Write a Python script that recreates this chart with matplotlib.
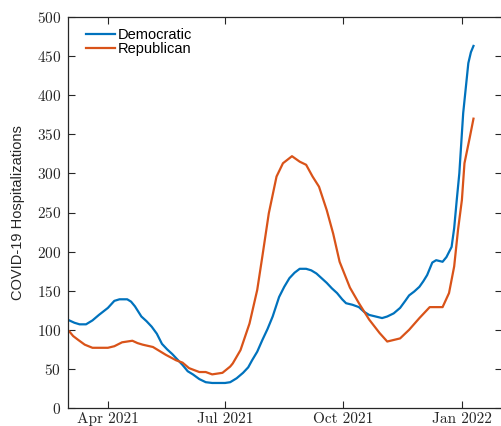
import numpy as np
import matplotlib.pyplot as plt

# 7-day hospitalizations by county partisanship
dem_dates = ["2021-03-02", "2021-03-06", "2021-03-10", "2021-03-15", "2021-03-20", "2021-03-25",
             "2021-04-01", "2021-04-06", "2021-04-10", "2021-04-16", "2021-04-19", "2021-04-22",
             "2021-04-27", "2021-05-01", "2021-05-05", "2021-05-09", "2021-05-13", "2021-05-17",
             "2021-05-21", "2021-05-25", "2021-05-29", "2021-06-02", "2021-06-06", "2021-06-11",
             "2021-06-16", "2021-06-21", "2021-06-26", "2021-07-01", "2021-07-05", "2021-07-10",
             "2021-07-15", "2021-07-19", "2021-07-22", "2021-07-26", "2021-07-30", "2021-08-03",
             "2021-08-07", "2021-08-12", "2021-08-16", "2021-08-20", "2021-08-24", "2021-08-28",
             "2021-09-02", "2021-09-06", "2021-09-10", "2021-09-14", "2021-09-18", "2021-09-22",
             "2021-09-26", "2021-09-30", "2021-10-03", "2021-10-08", "2021-10-13", "2021-10-17",
             "2021-10-21", "2021-10-26", "2021-10-31", "2021-11-04", "2021-11-09", "2021-11-14",
             "2021-11-18", "2021-11-21", "2021-11-25", "2021-11-29", "2021-12-02", "2021-12-05",
             "2021-12-09", "2021-12-12", "2021-12-17", "2021-12-20", "2021-12-24", "2021-12-26",
             "2021-12-28", "2021-12-30", "2022-01-02", "2022-01-06", "2022-01-08", "2022-01-10"]
dem_values = [112, 109, 107, 107, 112, 119,
              128, 137, 139, 139, 136, 130,
              117, 111, 104, 95, 82, 75,
              69, 62, 55, 47, 43, 37,
              33, 32, 32, 32, 33, 38,
              45, 52, 61, 72, 87, 101,
              117, 142, 155, 166, 173, 178,
              178, 176, 172, 166, 160, 153,
              147, 139, 134, 132, 129, 123,
              119, 117, 115, 117, 121, 128,
              137, 144, 149, 155, 162, 170,
              186, 189, 187, 193, 206, 230,
              266, 300, 377, 441, 455, 463]

rep_dates = ["2021-03-02", "2021-03-05", "2021-03-09", "2021-03-14", "2021-03-20", "2021-03-26",
             "2021-04-01", "2021-04-06", "2021-04-12", "2021-04-20", "2021-04-24", "2021-04-28",
             "2021-05-06", "2021-05-11", "2021-05-16", "2021-05-24", "2021-05-29", "2021-06-03",
             "2021-06-11", "2021-06-16", "2021-06-21", "2021-06-29", "2021-07-05", "2021-07-07",
             "2021-07-13", "2021-07-20", "2021-07-26", "2021-07-30", "2021-08-04", "2021-08-10",
             "2021-08-15", "2021-08-22", "2021-08-28", "2021-09-02", "2021-09-07", "2021-09-12",
             "2021-09-18", "2021-09-23", "2021-09-28", "2021-10-06", "2021-10-13", "2021-10-21",
             "2021-10-29", "2021-11-04", "2021-11-09", "2021-11-14", "2021-11-21", "2021-11-29",
             "2021-12-07", "2021-12-12", "2021-12-17", "2021-12-22", "2021-12-26", "2021-12-29",
             "2022-01-01", "2022-01-03", "2022-01-07", "2022-01-10"]
rep_values = [98, 92, 87, 81, 77, 77,
              77, 79, 84, 86, 83, 81,
              78, 73, 68, 61, 58, 51,
              46, 46, 43, 45, 53, 57,
              74, 108, 151, 194, 249, 296,
              313, 322, 315, 311, 296, 283,
              253, 223, 187, 154, 134, 113,
              96, 85, 87, 89, 100, 115,
              129, 129, 129, 147, 181, 228,
              266, 313, 345, 370]

xtick_dates = ["2021-04-01", "2021-07-01", "2021-10-01", "2022-01-01"]
xtick_labels = ["Apr 2021", "Jul 2021", "Oct 2021", "Jan 2022"]
ytick_values = list(range(0, 501, 50))

plt.rcParams['axes.formatter.use_mathtext'] = True
fig = plt.figure(figsize=(5.01, 4.26), dpi=100)
ax = fig.add_axes([68 / 501, 18 / 426, 433.8 / 501, 391 / 426])

ax.plot(np.array(dem_dates, dtype='datetime64[D]'), dem_values, color='#0072BD', lw=1.6, label='Democratic')
ax.plot(np.array(rep_dates, dtype='datetime64[D]'), rep_values, color='#D95319', lw=1.6, label='Republican')

ax.set_xlim(np.datetime64("2021-03-01"), np.datetime64("2022-02-01"))
ax.set_ylim(0, 500)
ax.set_xticks(np.array(xtick_dates, dtype='datetime64[D]'))
ax.set_xticklabels(xtick_labels)
ax.set_yticks(ytick_values)

for lbl in ax.get_xticklabels() + ax.get_yticklabels():
    lbl.set_family('cmr10')
    lbl.set_fontsize(11)

ax.tick_params(direction='in', length=5, width=0.8, colors='#262626', top=True, right=True)
ax.tick_params(axis='x', pad=3)
ax.tick_params(axis='y', pad=5)
for sp in ax.spines.values():
    sp.set_color('#262626')
    sp.set_linewidth(0.9)

ax.set_ylabel('COVID-19 Hospitalizations', family=['Liberation Sans Narrow', 'Liberation Sans'],
              fontsize=10.5, color='#262626')
ax.yaxis.set_label_coords(-0.1, 0.5)

plt.legend(loc='upper left', frameon=False, prop={'family': 'Liberation Sans', 'size': 10.5},
           handlelength=2.0, handletextpad=0.15, labelspacing=0.0,
           borderaxespad=0.0, bbox_to_anchor=(0.028, 0.987))

plt.savefig('out.png', dpi=100)
